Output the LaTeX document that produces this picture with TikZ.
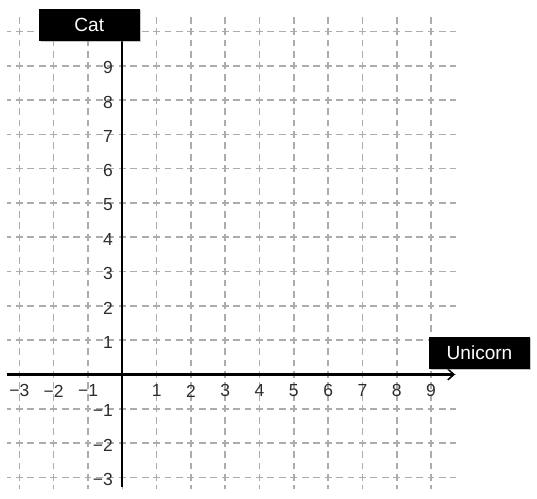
\documentclass[tikz,border=0pt]{standalone}
\usepackage{fontspec}
\setmainfont{Liberation Sans}
\usetikzlibrary{arrows.meta,shadows}
\definecolor{gridgray}{RGB}{172,172,172}
\definecolor{ticktext}{RGB}{45,45,45}
\tikzset{
  gridline/.style={draw=gridgray, line width=1.3pt, dash pattern=on 0.2cm off 0.1333cm, dash phase=0.0833cm},
  axisline/.style={draw=black, line width=1.7pt},
  ticklabel/.style={text=ticktext, inner sep=0pt, font=\fontsize{14.5}{16}\selectfont},
  titlebox/.style={fill=black, text=white, minimum width=2.93cm, minimum height=0.933cm, inner sep=0pt,
    font=\fontsize{15.8}{18}\selectfont,
    drop shadow={shadow xshift=1.2pt, shadow yshift=-1.2pt, fill=gray, opacity=0.45}}
}
\begin{document}
\begin{tikzpicture}[x=1cm,y=1cm]
\useasboundingbox (-3.566,-3.601) rectangle (12.09,10.918);
% grid
\foreach \j in {-3,...,10} {
  \draw[gridline] (-3.35,\j) -- (9.74,\j);
}
\foreach \i in {-3,...,9} {
  \draw[gridline] (\i,-3.35) -- (\i,10.5);
}
% axes
\coordinate (xstart) at (-3.35,0);
\coordinate (xend) at (9.7,0);
\coordinate (ystart) at (0,-3.28);
\coordinate (yend) at (0,9.8);
\draw[axisline, -{Straight Barb[length=5pt,width=9pt,line width=1.3pt]}] (xstart) -- (xend);
\draw[axisline] (ystart) -- (yend);
% tick labels
\foreach \i/\t in {-3/−3,-2/−2,-1/−1,1/1,2/2,3/3,4/4,5/5,6/6,7/7,8/8,9/9} {
  \node[ticklabel] (xl\i) at (\i,-0.48) {\t};
}
\foreach \j/\t in {-3/−3,-2/−2,-1/−1,1/1,2/2,3/3,4/4,5/5,6/6,7/7,8/8,9/9} {
  \node[ticklabel, anchor=east] (yl\j) at (-0.27,\j-0.06) {\t};
}
% axis titles
\node[titlebox] (cat) at (-0.962,10.2) {Cat};
\node[titlebox] (unicorn) at (10.414,0.627) {Unicorn};
\end{tikzpicture}
\end{document}
